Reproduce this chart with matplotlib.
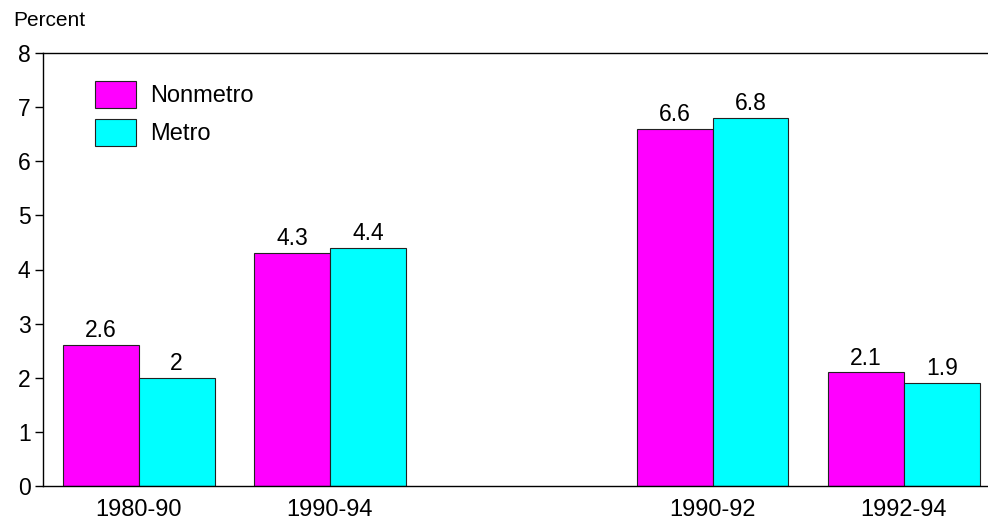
import matplotlib
matplotlib.use('Agg')
import matplotlib.pyplot as plt
import numpy as np

plt.rcParams['font.family'] = ['Liberation Sans', 'DejaVu Sans']

periods = ['1980-90', '1990-94', '1990-92', '1992-94']
slots = [0, 1, 3, 4]   # empty slot between the two pairs of periods
nonmetro = [2.6, 4.3, 6.6, 2.1]
metro = [2.0, 4.4, 6.8, 1.9]

fig = plt.figure(figsize=(9.88, 5.22), dpi=100)
ax = fig.add_axes([43/988, 1 - 486/522, 1 - 43/988, (486 - 53)/522])

x = np.array(slots, dtype=float)
w = 0.397
b1 = ax.bar(x - w/2, nonmetro, w, color='#ff00ff', edgecolor='#222222', linewidth=0.8, label='Nonmetro')
b2 = ax.bar(x + w/2, metro, w, color='#00ffff', edgecolor='#222222', linewidth=0.8, label='Metro')
ax.bar_label(b1, labels=['%g' % v for v in nonmetro], padding=2, fontsize=16.5)
ax.bar_label(b2, labels=['%g' % v for v in metro], padding=2, fontsize=16.5)

ax.set_xlim(-0.5, 4.44)
ax.set_ylim(0, 8)
ax.set_yticks(range(9))
ax.set_xticks(x)
ax.set_xticklabels(periods)
ax.tick_params(axis='y', labelsize=16.5, length=5.5, width=1, pad=3.5)
ax.tick_params(axis='x', labelsize=17, length=0, pad=9)
ax.spines['right'].set_visible(False)
for s in ('left', 'bottom', 'top'):
    ax.spines[s].set_linewidth(1.0)

fig.text(13/988, 1 - 20/522, 'Percent', fontsize=15, va='center', ha='left')

ax.legend(loc='upper left', bbox_to_anchor=(95/988, 1 - 81/522), bbox_transform=fig.transFigure,
          frameon=False, fontsize=17, borderpad=0, borderaxespad=0,
          handlelength=1.74, handleheight=1.35, handletextpad=0.6, labelspacing=0.5)

fig.savefig('out.png', dpi=100)
